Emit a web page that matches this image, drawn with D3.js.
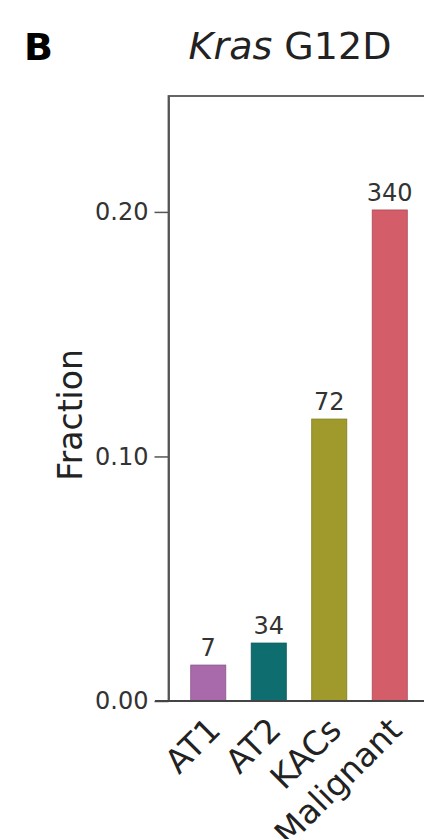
<!DOCTYPE html>
<html>
<head>
<meta charset="utf-8">
<script src="https://cdn.jsdelivr.net/npm/d3@7"></script>
<style>
  html, body { margin: 0; padding: 0; background: #fff; }
  svg { display: block; }
  text { font-family: "DejaVu Sans", sans-serif; }
</style>
</head>
<body>
<svg id="chart" width="424" height="839"></svg>
<script>
// ---- data ----
const categories = ["AT1", "AT2", "KACs", "Malignant"];
const fractions  = [0.0147, 0.0237, 0.1153, 0.2008];
const counts     = [7, 34, 72, 340];
const colors     = ["#a96aab", "#0d6d6f", "#a09a2c", "#d35d69"];
const yTicks     = [0.00, 0.10, 0.20];
const yTickLabels = ["0.00", "0.10", "0.20"];
const yMax = 0.2474;

const svg = d3.select("#chart");

const x = d3.scaleBand().domain(categories).range([165.3, 432.7]).padding(0.42);
const y = d3.scaleLinear().domain([0, yMax]).range([701, 96]);

const data = categories.map((c, i) => ({ cat: c, v: fractions[i], n: counts[i], col: colors[i] }));

// frame (top + right off-canvas)
svg.append("rect")
  .attr("x", 168.5).attr("y", y(yMax))
  .attr("width", 300).attr("height", y(0) - y(yMax))
  .attr("fill", "none").attr("stroke", "#555").attr("stroke-width", 1.8);

// bars
svg.append("g").selectAll("rect").data(data).join("rect")
  .attr("x", d => x(d.cat))
  .attr("y", d => y(d.v))
  .attr("width", x.bandwidth())
  .attr("height", d => y(0) - y(d.v))
  .attr("fill", d => d.col)
  .attr("stroke", d => d3.color(d.col).darker(0.6))
  .attr("stroke-width", 0.8);

// count labels
svg.append("g").selectAll("text").data(data).join("text")
  .attr("x", d => x(d.cat) + x.bandwidth() / 2)
  .attr("y", d => y(d.v) - 9)
  .attr("text-anchor", "middle")
  .attr("font-size", 24)
  .attr("fill", "#333")
  .text(d => d.n);

// y axis
const yAxis = d3.axisLeft(y).tickValues(yTicks).tickFormat((d, i) => yTickLabels[i])
  .tickSize(14).tickSizeOuter(0).tickPadding(6);
const gy = svg.append("g").attr("transform", "translate(168.5,0)").call(yAxis);
gy.select(".domain").attr("stroke", "#555").attr("stroke-width", 1.8);
gy.selectAll(".tick line").attr("stroke", "#555").attr("stroke-width", 1.5);
gy.selectAll(".tick text").attr("font-size", 24).attr("fill", "#333")
  .attr("font-family", "DejaVu Sans, sans-serif");

// x axis line
svg.append("line")
  .attr("x1", 155).attr("x2", 424)
  .attr("y1", y(0)).attr("y2", y(0))
  .attr("stroke", "#444").attr("stroke-width", 2);

// x labels rotated
svg.append("g").selectAll("text").data(categories).join("text")
  .attr("transform", d => `translate(${x(d) + x.bandwidth() / 2 + 14},${y(0) + 31}) rotate(-45)`)
  .attr("text-anchor", "end")
  .attr("font-size", 33)
  .attr("fill", "#222")
  .text(d => d);

// y title
svg.append("text")
  .attr("transform", "translate(82,415) rotate(-90)")
  .attr("text-anchor", "middle")
  .attr("font-size", 33)
  .attr("fill", "#222")
  .text("Fraction");

// title
const title = svg.append("text")
  .attr("x", 290).attr("y", 59)
  .attr("text-anchor", "middle")
  .attr("font-size", 38)
  .attr("fill", "#222");
title.append("tspan").attr("font-style", "italic").text("Kras");
title.append("tspan").text(" G12D");

// panel letter
svg.append("text")
  .attr("x", 24).attr("y", 60)
  .attr("font-size", 38)
  .attr("font-weight", "bold")
  .attr("fill", "#000")
  .text("B");
</script>
</body>
</html>
